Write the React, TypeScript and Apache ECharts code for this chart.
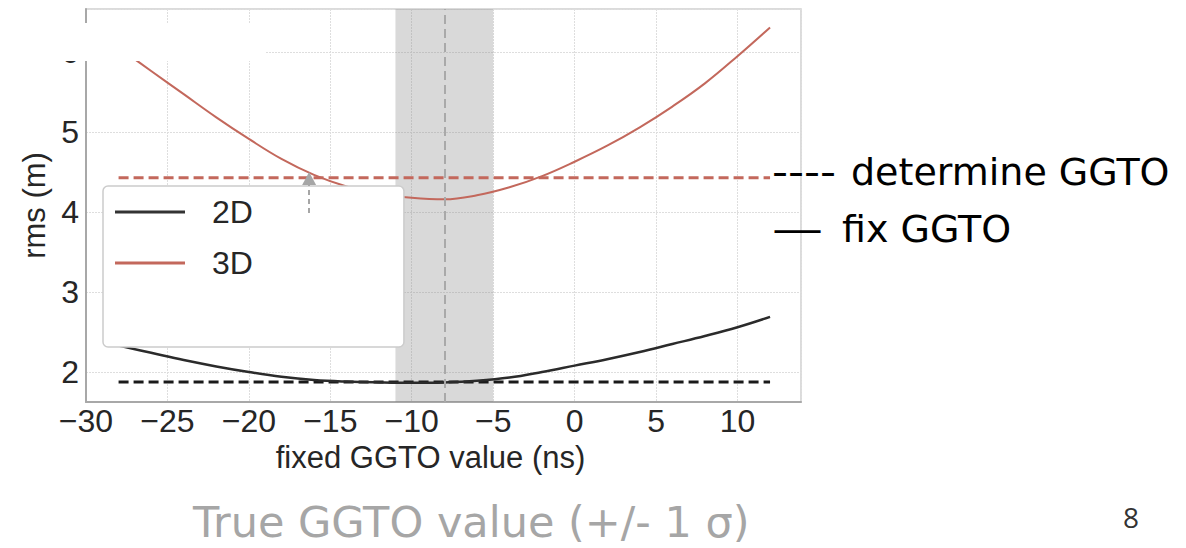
import React, { useEffect, useRef } from "react";
import * as echarts from "echarts";

const ggto = [-28, -26, -24, -22, -20, -18, -16, -14, -12, -10, -8, -6, -4, -2, 0, 2, 4, 6, 8, 10, 12];
const rms3D = [6.055, 5.765, 5.475, 5.185, 4.915, 4.665, 4.465, 4.32, 4.23, 4.18, 4.16, 4.21, 4.31, 4.45, 4.63, 4.83, 5.06, 5.32, 5.61, 5.95, 6.31];
const rms2D = [2.33, 2.24, 2.15, 2.07, 2.0, 1.94, 1.9, 1.88, 1.87, 1.865, 1.87, 1.89, 1.93, 2.0, 2.08, 2.16, 2.25, 2.35, 2.45, 2.56, 2.69];
const determined3D = 4.43;
const determined2D = 1.875;
const dashedRange = [-28, 12];
const trueGgto = -8;
const sigmaBand = [-11, -5];
const arrowX = -16.3;
const arrowFromTo = [3.99, 4.42];
const xTicks = [-30, -25, -20, -15, -10, -5, 0, 5, 10];
const yTicks = [2, 3, 4, 5, 6];
const seriesNames = ["2D", "3D"];

const RED = "#c3685c";
const BLACK = "#262626";
const AXFONT = "Liberation Sans";
const SLIDEFONT = "DejaVu Sans";

export default function App() {
  const ref = useRef<HTMLDivElement>(null);
  useEffect(() => {
    if (!ref.current) return;
    const chart = echarts.init(ref.current, null, { renderer: "svg" });
    const fmtX = (v: number) =>
      xTicks.includes(v) ? (v < 0 ? "\u2212" + Math.abs(v) : String(v)) : "";
    const fmtY = (v: number) => (yTicks.includes(v) ? String(v) : "");
    chart.setOption({
      animation: false,
      backgroundColor: "#ffffff",
      grid: {
        left: 86,
        right: 385,
        top: 9,
        bottom: 146,
        show: true,
        borderColor: "#cfcfcf",
        borderWidth: 1.5,
        backgroundColor: "transparent",
      },
      legend: {
        data: seriesNames.map((n) => ({ name: n, icon: "rect" })),
        left: 103,
        top: 186,
        orient: "vertical",
        padding: [10, 151, 68, 12],
        itemWidth: 70,
        itemHeight: 3,
        itemGap: 19,
        backgroundColor: "#ffffff",
        borderColor: "#cccccc",
        borderWidth: 1.5,
        borderRadius: 5,
        textStyle: {
          fontFamily: AXFONT,
          fontSize: 32,
          color: BLACK,
          padding: [0, 0, 0, 22],
        },
      },
      xAxis: {
        type: "value",
        min: -30,
        max: 13.9,
        interval: 5,
        name: "fixed GGTO value (ns)",
        nameLocation: "middle",
        nameGap: 40,
        nameTextStyle: {
          fontFamily: AXFONT,
          fontSize: 31,
          color: BLACK,
          padding: [0, 26, 0, 0],
        },
        axisLine: { show: true, onZero: false, lineStyle: { color: "#a8a8a8", width: 2 } },
        axisTick: { show: false },
        axisLabel: {
          formatter: fmtX,
          fontFamily: AXFONT,
          fontSize: 32,
          color: BLACK,
          margin: 3,
          showMaxLabel: false,
        },
        splitLine: { show: true, lineStyle: { color: "#dedede", width: 1, type: [2, 1] } },
      },
      yAxis: {
        type: "value",
        min: 1.625,
        max: 6.54,
        minInterval: 1,
        maxInterval: 1,
        name: "rms (m)",
        nameLocation: "middle",
        nameGap: 17,
        nameTextStyle: { fontFamily: AXFONT, fontSize: 31, color: BLACK },
        axisLine: { show: true, onZero: false, lineStyle: { color: "#a8a8a8", width: 2 } },
        axisTick: { show: false },
        axisLabel: {
          formatter: fmtY,
          fontFamily: AXFONT,
          fontSize: 32,
          color: BLACK,
          margin: 7,
        },
        splitLine: { show: true, lineStyle: { color: "#dedede", width: 1, type: [2, 1] } },
      },
      series: [
        {
          name: "band",
          type: "line",
          data: [],
          z: 1,
          silent: true,
          markArea: {
            silent: true,
            itemStyle: { color: "rgba(128,128,128,0.3)" },
            data: [[{ xAxis: sigmaBand[0] }, { xAxis: sigmaBand[1] }]],
          },
          markLine: {
            silent: true,
            symbol: ["none", "none"],
            label: { show: false },
            lineStyle: { color: "#a9a9a9", width: 2, type: [9, 5] },
            data: [{ xAxis: trueGgto }],
          },
        },
        {
          name: "2D-det",
          type: "line",
          data: dashedRange.map((x) => [x, determined2D]),
          symbol: "none",
          z: 2,
          lineStyle: { color: "#1a1a1a", width: 3, type: [10, 5] },
        },
        {
          name: "3D-det",
          type: "line",
          data: dashedRange.map((x) => [x, determined3D]),
          symbol: "none",
          z: 2,
          lineStyle: { color: RED, width: 3, type: [10, 5] },
        },
        {
          name: "2D",
          type: "line",
          data: ggto.map((x, i) => [x, rms2D[i]]),
          smooth: 0.4,
          symbol: "none",
          z: 3,
          color: "#333333",
          lineStyle: { color: "#2b2b2b", width: 2.5 },
        },
        {
          name: "3D",
          type: "line",
          data: ggto.map((x, i) => [x, rms3D[i]]),
          smooth: 0.4,
          symbol: "none",
          z: 3,
          color: RED,
          lineStyle: { color: RED, width: 2 },
        },
        {
          name: "arrow",
          type: "line",
          data: [],
          z: 6,
          silent: true,
          markLine: {
            silent: true,
            symbol: ["none", "triangle"],
            symbolSize: [14, 13],
            label: { show: false },
            lineStyle: { color: "#a6a6a6", width: 2, type: [5, 4] },
            data: [[{ coord: [arrowX, arrowFromTo[0]] }, { coord: [arrowX, arrowFromTo[1]] }]],
          },
        },
      ],
      graphic: [
        {
          type: "rect",
          z: 100,
          shape: { x: 55, y: 23, width: 210, height: 38 },
          style: { fill: "#ffffff" },
        },
        {
          type: "text",
          z: 100,
          x: 772,
          y: 172,
          scaleX: 1.2,
          style: {
            text: "----",
            font: `37px "${SLIDEFONT}"`,
            fill: "#000000",
            textAlign: "left",
            textVerticalAlign: "middle",
          },
        },
        {
          type: "text",
          z: 100,
          x: 851,
          y: 172,
          style: {
            text: "determine GGTO",
            font: `38px "${SLIDEFONT}"`,
            fill: "#000000",
            textAlign: "left",
            textVerticalAlign: "middle",
          },
        },
        {
          type: "text",
          z: 100,
          x: 772,
          y: 230,
          scaleX: 1.38,
          style: {
            text: "\u2014",
            font: `37px "${SLIDEFONT}"`,
            fill: "#000000",
            textAlign: "left",
            textVerticalAlign: "middle",
          },
        },
        {
          type: "text",
          z: 100,
          x: 842,
          y: 229,
          style: {
            text: "fix GGTO",
            font: `38px "${SLIDEFONT}"`,
            fill: "#000000",
            textAlign: "left",
            textVerticalAlign: "middle",
          },
        },
        {
          type: "text",
          z: 100,
          x: 193,
          y: 522,
          style: {
            text: "True GGTO value (+/- 1 \u03c3)",
            font: `43px "${SLIDEFONT}"`,
            fill: "#a6a6a6",
            textAlign: "left",
            textVerticalAlign: "middle",
          },
        },
        {
          type: "text",
          z: 100,
          x: 1123,
          y: 517,
          style: {
            text: "8",
            font: `28px "Open Sans"`,
            fill: "#333333",
            textAlign: "left",
            textVerticalAlign: "middle",
          },
        },
      ],
    });
    return () => chart.dispose();
  }, []);
  return (
    <div
      ref={ref}
      style={{ position: "fixed", left: 0, top: 0, width: 1186, height: 548 }}
    />
  );
}
